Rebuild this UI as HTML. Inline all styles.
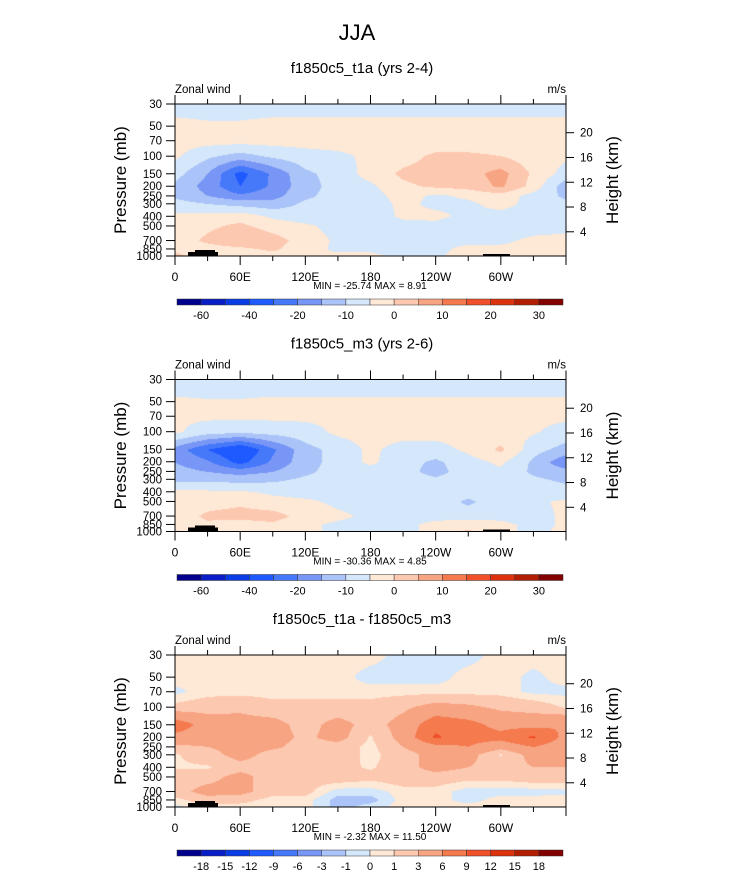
<!DOCTYPE html>
<html><head><meta charset="utf-8"><style>
body{margin:0;background:#fff;font-family:"Liberation Sans",sans-serif;}
#root{position:relative;width:733px;height:888px;overflow:hidden;background:#fff}
canvas{position:absolute}
.t{position:absolute;white-space:nowrap;color:#000}
</style></head><body>
<div id="root">
<div class="t" style="left:0;width:714px;text-align:center;top:20px;font-size:22px">JJA</div>
<svg id="svg" width="733" height="888" style="position:absolute;left:0;top:0"></svg>
</div>
<script>
const levels=[30,50,70,100,150,200,250,300,400,500,700,850,1000];
const lons=[0,30,60,90,120,150,180,210,240,270,300,330,360];
const heightTicks=[4,8,12,16,20];
const lonLabels=["0","60E","120E","180","120W","60W"];
const colors=["#00008c","#0a1ec8","#0a3ce6","#1e5aff","#4678fa","#7896f5","#aac3f8","#d4e7fb","#fee8d6","#fcc8b0","#f7a482","#f57a4e","#f0502a","#dc320e","#b41e00","#820000"];
const bounds1=[-60,-50,-40,-30,-20,-15,-10,-5,0,5,10,15,20,25,30];
const bounds3=[-18,-15,-12,-9,-6,-3,-1,0,1,3,6,9,12,15,18];
const labels1=["-60","","-40","","-20","","-10","","0","","10","","20","","30"];
const labels3=["-18","-15","-12","-9","-6","-3","-1","0","1","3","6","9","12","15","18"];
const field1=[
[-3,-3,-3,-3,-3,-3,-3,-3,-3,-3,-3,-3,-3],
[2,1,1,2,2,2,2,2,2,2,2,2,2],
[2,2,2,2,2,2,2,2,2,2,2,2,2],
[1,-4,-7,-4,-2,-1,1,3,6,6,5,2,1],
[-3,-10,-22,-14,-6,-3,2,6,7,8,12,4,-2],
[-6,-12,-20,-14,-7,-3,-1,4,6,7,11,3,-8],
[-6,-10,-14,-12,-6,-3,-2,2,-1,1,3,-2,-6],
[-3,-5,-7,-8,-4,-3,-2,1,-1,-1,2,-2,-4],
[1,2,3,-1,-3,-3,-3,1,1,-1,-2,-2,-1],
[2,4,6,3,1,-2,-3,-2,-1,-4,-2,-2,-1],
[2,6,9,7,3,-1,-2,-2,-2,-2,-1,1,1],
[4,3,4,6,2,-1,-1,-2,-2,2,1,2,2],
[6,3,2,3,1,1,1,-1,-1,3,1,1,1]];
const field2=[
[-3,-3,-3,-3,-3,-3,-3,-3,-3,-3,-3,-3,-3],
[1,0.5,0.5,1,1,1,1,1,1,1,1,1,1],
[1,1,1,1,1,1,1,1,1,1,1,1,1],
[1,-3,-4,-3,-2,1,2,2,2,2,2,0.5,-2],
[-12,-20,-26,-16,-7,-3,1,-2,-2,1,6,-3,-7],
[-10,-14,-22,-14,-7,-3,1,-3,-6,-2,1,-6,-14],
[-8,-10,-12,-10,-6,-3,-2,-3,-7,-2,-1,-6,-8],
[-6,-6,-7,-6,-4,-3,-2,-2,-4,-2,-2,-4,-6],
[1,1,1,-1,-2,-2,-2,-2,-2,-3,-2,-2,-3],
[1,3,4,2,1,-1,-2,-2,-2,-6,-2,-1,1],
[2,6,7,7,3,1,-1,-2,-2,-2,-1,-2,1],
[2,4,2,4,1,-1,-2,-2,2,3,1,-1,0.5],
[6,2,1,1,1,-1,-1,-1,1,6,1,-1,1]];
const field3=[
[0.5,0.5,0.5,0.5,0.5,0.5,0.5,-0.5,-0.5,-0.5,0.5,0.5,0.5],
[0.5,0.5,0.5,0.5,0.5,0.5,-0.5,-0.5,-0.5,0.5,0.5,-0.3,0.5],
[-0.3,0.5,0.5,0.5,0.5,0.5,0.5,0.5,0.5,0.5,0.5,-0.3,-0.3],
[1.5,2,2.5,1.5,1.5,1.5,1.5,2.5,4,3.5,2.5,2,0.8],
[8,4.5,4,4,2,4,2,4,8,7,5,5,6],
[5,4,4,4,2.5,4,0.8,4,9.5,7,7,9.5,5],
[2.5,3,4,3.5,2,2,0.5,3,5,6,4,6,4],
[0.8,2,4,2,2,2,0.5,2,4,4,0.8,4,3],
[0.8,0.8,2,2,1.5,1.5,0.8,2,4,3,2,3,3],
[2,2,4,1.5,1.5,2,1.5,2,2,1.5,1.5,2,2],
[2,4,4,1.5,1.5,-0.5,-0.5,0.5,0.5,-0.5,-0.5,-0.5,-0.3],
[0.5,2,1.5,0.5,0.5,-1.5,-1.5,0.5,0.5,-0.5,0.5,0.5,0.5],
[-0.3,0.5,0.5,0.5,0.5,-1.5,-0.5,0.5,0.5,0.5,0.5,0.5,0.5]];
const panels=[
 {title:"f1850c5_t1a (yrs 2-4)",field:field1,bounds:bounds1,labels:labels1,shift:-1,minmax:"MIN = -25.74  MAX =   8.91"},
 {title:"f1850c5_m3 (yrs 2-6)",field:field2,bounds:bounds1,labels:labels1,shift:-1,minmax:"MIN = -30.36  MAX =   4.85"},
 {title:"f1850c5_t1a - f1850c5_m3",field:field3,bounds:bounds3,labels:labels3,shift:0,minmax:"MIN =  -2.32  MAX =  11.50"}];

const X0=175,W=391,H=152,root=document.getElementById('root'),svg=document.getElementById('svg');
const NS="http://www.w3.org/2000/svg";
const xs=lon=>X0+lon/360*W;
const ys=(p,top)=>top+Math.log(p/30)/Math.log(1000/30)*H;
function el(tag,attrs,parent){const e=document.createElementNS(NS,tag);for(const k in attrs)e.setAttribute(k,attrs[k]);(parent||svg).appendChild(e);return e;}
function txt(s,x,y,size,anchor,parent,rot){const e=el('text',{x:x,y:y,'font-size':size,'text-anchor':anchor||'start','font-family':'Liberation Sans, sans-serif'},parent);if(rot)e.setAttribute('transform',`rotate(-90 ${x} ${y})`);e.textContent=s;return e;}
function interp(field,lon,p){
 const lp=Math.log(p);
 let j=Math.min(11,Math.floor(lon/30));const fx=(lon-lons[j])/30;
 let i=0;while(i<11&&p>levels[i+1])i++;
 const fy=(lp-Math.log(levels[i]))/(Math.log(levels[i+1])-Math.log(levels[i]));
 const a=field[i][j],b=field[i][j+1],c=field[i+1][j],d=field[i+1][j+1];
 return (a*(1-fx)+b*fx)*(1-fy)+(c*(1-fx)+d*fx)*fy;}
function colorIdx(v,bounds){let k=0;while(k<bounds.length&&v>=bounds[k])k++;return k;}
function hex(h){return [parseInt(h.substr(1,2),16),parseInt(h.substr(3,2),16),parseInt(h.substr(5,2),16)];}
const off=275.5;
panels.forEach((P,n)=>{
 const top=104+n*off;
 const g=el('g',{});
 
 
 const t=txt(P.title,362,top-31,15,'middle',g);
 
 txt("Zonal wind",X0,top-11,11.5,'start',g);
 txt("m/s",X0+W,top-11,11.5,'end',g);
 const cv=document.createElement('canvas');cv.width=W;cv.height=H;cv.style.left=X0+'px';cv.style.top=top+'px';
 
 
 root.insertBefore(cv,svg);
 const ctx=cv.getContext('2d'),img=ctx.createImageData(W,H);
 for(let py=0;py<H;py++){const p=30*Math.exp((py+0.5)/H*Math.log(1000/30));
  for(let px=0;px<W;px++){const lon=(px+0.5)/W*360;
   let ci=colorIdx(interp(P.field,lon,p),P.bounds)+P.shift;ci=Math.max(0,Math.min(15,ci));
   const c=hex(colors[ci]);const o=(py*W+px)*4;
   img.data[o]=c[0];img.data[o+1]=c[1];img.data[o+2]=c[2];img.data[o+3]=255;}}
 ctx.putImageData(img,0,0);
 el('rect',{x:188,y:top+148,width:30,height:4,fill:'#000'},g);
 el('rect',{x:195,y:top+146,width:20,height:3,fill:'#000'},g);
 el('rect',{x:483,y:top+150,width:27,height:2,fill:'#000'},g);
 el('rect',{x:X0,y:top,width:W,height:H,fill:'none',stroke:'#000','stroke-width':1},g);
 for(let k=0;k<=12;k++){const x=xs(k*30),L=k%2?5:9;
  el('line',{x1:x,x2:x,y1:top,y2:top-L,stroke:'#000'},g);
  el('line',{x1:x,x2:x,y1:top+H,y2:top+H+L,stroke:'#000'},g);}
 lonLabels.forEach((s,k)=>{const e=txt(s,xs(k*60),top+H+25,12,'middle',g);});
 txt(P.minmax,370,top+H+33,10,'middle',g);
 levels.forEach(p=>{const y=ys(p,top);el('line',{x1:X0,x2:X0-9,y1:y,y2:y,stroke:'#000'},g);
  const e=txt(String(p),X0-13,y+4,11.5,'end',g);});
 heightTicks.forEach(h=>{const p=1013*Math.exp(-h/7);const y=ys(p,top);
  el('line',{x1:X0+W,x2:X0+W+8,y1:y,y2:y,stroke:'#000'},g);
  const e=txt(String(h),X0+W+14,y+4,11.5,'start',g);});
 txt("Pressure (mb)",126,top+H/2,17,'middle',g,true);
 txt("Height (km)",618,top+H/2,17,'middle',g,true);
 const cy=top+195,bw=386/16;
 for(let k=0;k<16;k++){const r=el('rect',{x:177+k*bw,y:cy,width:bw,height:6,fill:colors[k],stroke:'#333','stroke-width':0.5},g);
  }
 P.labels.forEach((s,k)=>{if(!s)return;const e=txt(s,177+(k+1)*bw,cy+20,11,'middle',g);});
});
</script>
</body></html>
